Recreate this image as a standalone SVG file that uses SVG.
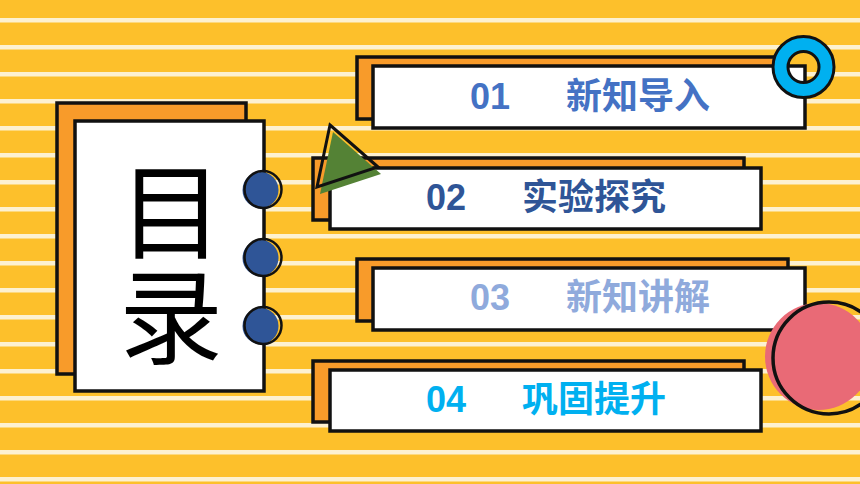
<svg xmlns="http://www.w3.org/2000/svg" width="860" height="484" viewBox="0 0 860 484">
<style>
.stripe{fill:#FDF1D0}
.back{fill:#F89B2A;stroke:#111;stroke-width:3.5}
.front{fill:#FFFFFF;stroke:#111;stroke-width:3.5}
.lbl{font-family:"Liberation Sans","Noto Sans CJK SC",sans-serif;font-weight:bold;font-size:36px}
.cn{font-family:"Noto Sans CJK SC",sans-serif}
.ring{fill:none;stroke:#111;stroke-width:2.5}
.big{font-family:"Noto Sans CJK SC",sans-serif;font-size:104px;fill:#000;writing-mode:vertical-rl;letter-spacing:1px}
</style>
<defs>
<pattern id="stripes" x="0" y="18" width="860" height="27" patternUnits="userSpaceOnUse">
<rect x="0" y="0" width="860" height="4.5" class="stripe"/>
</pattern>
</defs>
<g id="background">
<rect x="0" y="0" width="860" height="484" fill="#FDC02B"/>
<rect x="0" y="0" width="860" height="484" fill="url(#stripes)"/>
</g>
<g id="title-card">
<rect x="57" y="103" width="189" height="271" class="back"/>
<rect x="75" y="121" width="189" height="270" class="front"/>
<text x="171" y="159" class="big">目录</text>
<g id="rings">
<circle cx="260.5" cy="190" r="18" fill="#2F5597"/>
<circle cx="263" cy="189.5" r="18.5" class="ring"/>
<circle cx="260.5" cy="258" r="18" fill="#2F5597"/>
<circle cx="263" cy="257.5" r="18.5" class="ring"/>
<circle cx="260.5" cy="326" r="18" fill="#2F5597"/>
<circle cx="263" cy="325.5" r="18.5" class="ring"/>
</g>
</g>
<g id="item-01">
<rect x="357" y="57" width="431" height="62" class="back"/>
<rect x="373" y="66" width="432" height="62" class="front"/>
<text class="lbl" y="109" fill="#4472C4"><tspan x="470">01</tspan><tspan x="566" class="cn">新知导入</tspan></text>
</g>
<g id="item-02">
<rect x="313" y="158" width="431" height="62" class="back"/>
<rect x="330" y="168" width="431" height="61" class="front"/>
<text class="lbl" y="210" fill="#2F5597"><tspan x="426">02</tspan><tspan x="522" class="cn">实验探究</tspan></text>
</g>
<g id="item-03">
<rect x="357" y="259" width="431" height="62" class="back"/>
<rect x="373" y="268" width="432" height="62" class="front"/>
<text class="lbl" y="310" fill="#8FAADC"><tspan x="470">03</tspan><tspan x="566" class="cn">新知讲解</tspan></text>
</g>
<g id="item-04">
<rect x="313" y="361" width="431" height="61" class="back"/>
<rect x="330" y="370" width="431" height="61" class="front"/>
<text class="lbl" y="412" fill="#00B0F0"><tspan x="426">04</tspan><tspan x="522" class="cn">巩固提升</tspan></text>
</g>
<g id="triangle">
<polygon points="333,132 381,174 320,194" fill="#548235"/>
<polygon points="330,125 378,167 317,187" fill="none" stroke="#111" stroke-width="3" stroke-linejoin="miter"/>
</g>
<g id="blue-ring">
<path d="M773,67 a30.5,30.5 0 1,0 61,0 a30.5,30.5 0 1,0 -61,0 Z M788,67 a15.5,15.5 0 1,1 31,0 a15.5,15.5 0 1,1 -31,0 Z" fill="#00B0F0" fill-rule="evenodd" stroke="#111" stroke-width="3"/>
</g>
<g id="red-circle">
<circle cx="818.5" cy="356.5" r="53.5" fill="#E96A76"/>
<circle cx="829" cy="358" r="56" fill="none" stroke="#111" stroke-width="3.5"/>
</g>
<g id="connectors"/>
</svg>
